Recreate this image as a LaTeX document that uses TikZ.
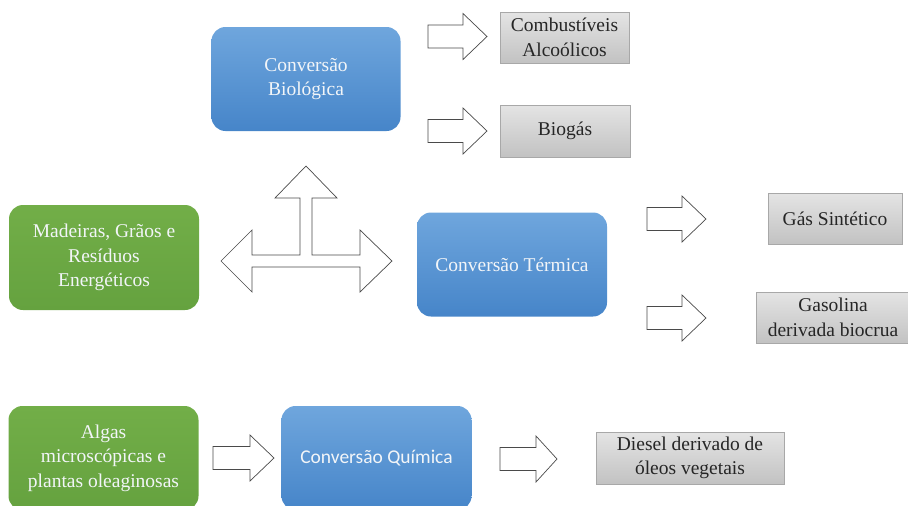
\documentclass[tikz,border=0pt]{standalone}
\usepackage{fontspec}
\setmainfont{Liberation Serif}
\newfontfamily\calfont{Carlito}
\definecolor{bluetop}{HTML}{6FA6DD}
\definecolor{bluebot}{HTML}{4685C9}
\definecolor{greentop}{HTML}{72AE48}
\definecolor{greenbot}{HTML}{65A23F}
\definecolor{graytop}{HTML}{E4E4E4}
\definecolor{graybot}{HTML}{C2C2C2}
\definecolor{grayline}{HTML}{A8A8A8}
\definecolor{lighttext}{HTML}{F2F5F8}
\definecolor{arrowline}{HTML}{4A4A4A}
\tikzset{
  boxtext/.style={align=center, inner sep=0pt, font=\rmfamily\fontsize{19.5}{24.5}\selectfont},
  bluebox/.style={boxtext, rectangle, rounded corners=14pt, top color=bluetop, bottom color=bluebot, draw=none, text=lighttext},
  greenbox/.style={boxtext, rectangle, rounded corners=14pt, top color=greentop, bottom color=greenbot, draw=none, text=lighttext},
  graybox/.style={boxtext, rectangle, top color=graytop, bottom color=graybot, draw=grayline, line width=0.8pt, text=black!85},
  blockarrow/.style={draw=arrowline, line width=0.7pt, fill=white, line join=miter}
}
\newcommand{\rarrow}[4]{% x1, xbase, xtip, ycenter
  \draw[blockarrow] (#1,#4-11.5) -- (#2,#4-11.5) -- (#2,#4-23) -- (#3,#4) -- (#2,#4+23) -- (#2,#4+11.5) -- (#1,#4+11.5) -- cycle;}
\begin{document}
\begin{tikzpicture}[x=1pt,y=-1pt]
\useasboundingbox (0,0) rectangle (908,506);
% boxes
\node[bluebox, minimum width=189pt, minimum height=104pt] (bio) at (306,79) {Conversão\\Biológica};
\node[graybox, minimum width=129pt, minimum height=51pt] (comb) at (564.5,37.5) {Combustíveis\\Alcoólicos};
\node[graybox, minimum width=130pt, minimum height=52pt] (biogas) at (565,131) {Biogás};
\node[greenbox, minimum width=190pt, minimum height=105pt] (mad) at (104,257.5) {Madeiras, Grãos e\\Resíduos\\Energéticos};
\node[bluebox, minimum width=190pt, minimum height=104pt] (term) at (512,264.5) {Conversão Térmica};
\node[graybox, minimum width=134pt, minimum height=51pt] (gas) at (835,218.5) {Gás Sintético};
\node[graybox, minimum width=153pt, minimum height=51pt] (gasol) at (833,317.5) {Gasolina\\derivada biocrua};
\node[greenbox, minimum width=190pt, minimum height=104pt] (alg) at (103.5,458) {Algas\\microscópicas e\\plantas oleaginosas};
\node[bluebox, minimum width=190pt, minimum height=104pt, font=\calfont\fontsize{19.5}{24}\selectfont] (quim) at (376.5,458) {Conversão Química};
\node[graybox, minimum width=188pt, minimum height=52pt] (diesel) at (690,458) {Diesel derivado de\\óleos vegetais};
% block arrows
\rarrow{428}{463}{487}{36.5}
\rarrow{428}{463}{487}{131}
\rarrow{647}{682}{706}{219}
\rarrow{647}{682}{706}{318}
\rarrow{213}{250}{274}{458}
\rarrow{500}{536}{557}{459}
% three-way arrow
\draw[blockarrow] (306,166) -- (337,198) -- (312,198) -- (312,255) -- (360,255) -- (360,230)
  -- (392,261) -- (360,292) -- (360,267) -- (252,267) -- (252,292) -- (221,261) -- (252,230)
  -- (252,255) -- (300,255) -- (300,198) -- (275,198) -- cycle;
\end{tikzpicture}
\end{document}
